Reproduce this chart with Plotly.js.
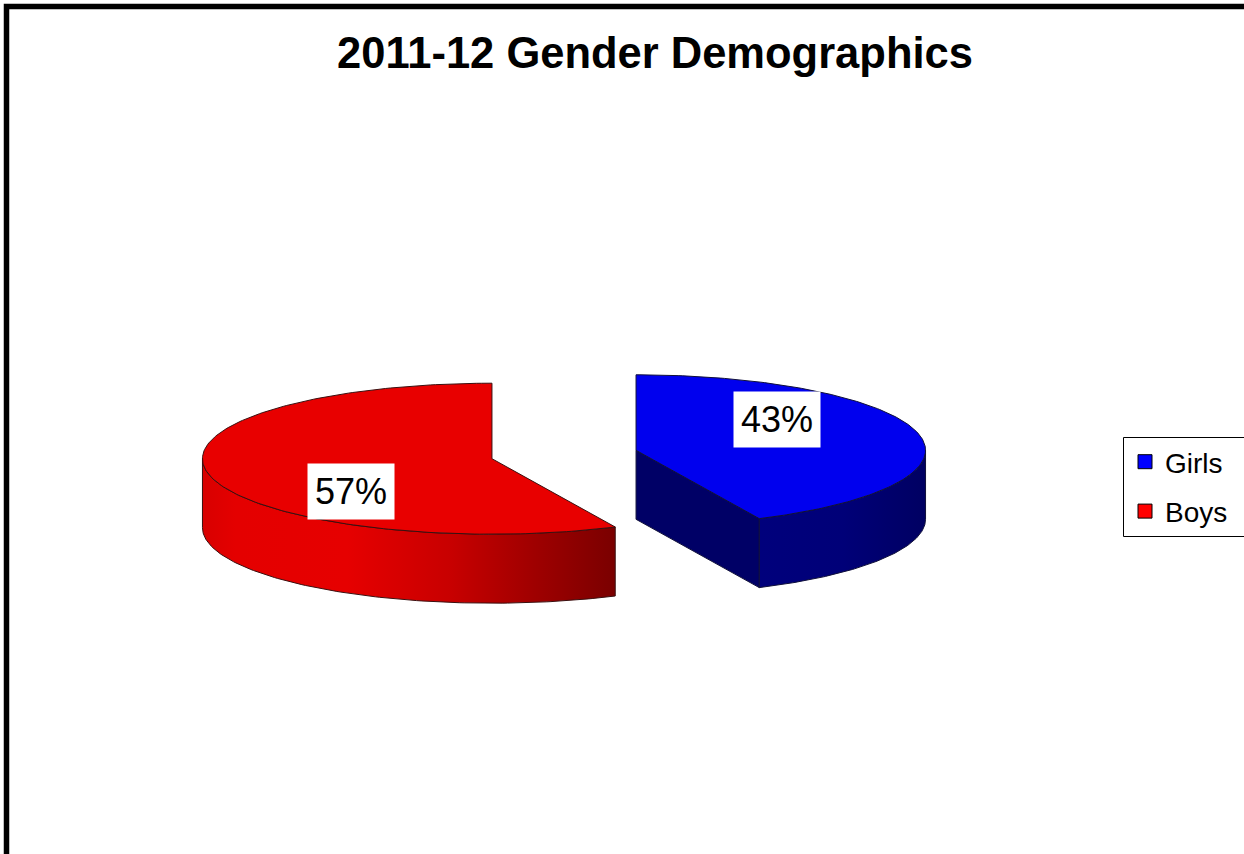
<!DOCTYPE html>
<html>
<head>
<meta charset="utf-8">
<script src="https://cdn.plot.ly/plotly-3.0.1.min.js"></script>
<style>html,body{margin:0;padding:0;background:#fff;}#chart{width:1244px;height:854px;}</style>
</head>
<body>
<div id="chart"></div>
<script>
// ---- data ----
const categories = ['Girls', 'Boys'];
const values = [43, 57];
const chartTitle = '2011-12 Gender Demographics';

// ---- styles ----
const topColors = ['#0000EE', '#E80000'];
const legendColors = ['#0000FF', '#FF0000'];
const cutColors = ['#000066', '#800000'];
const wallScales = [
  [[0, '#00007c'], [0.5, '#000078'], [1, '#000062']],
  [[0, '#d80000'], [0.08, '#e40000'], [0.35, '#e60000'], [0.6, '#c80000'], [0.8, '#a00000'], [1, '#7a0000']]
];
const outline = ['#10103a', '#3a1010'];

// ---- geometry (pixel-based axes) ----
const CX = 564, CY = 454.5, A = 289.5, B = 75.5, DEPTH = 69, EXPLODE = 0.255, LABEL_R = 0.5;
const FONT = 'Liberation Sans, Arial, sans-serif';

const total = values.reduce((s, v) => s + v, 0);
let acc = 0;
const slices = categories.map((c, i) => {
  const sweep = values[i] / total * 360;
  const s = { name: c, i: i, t1: acc, t2: acc + sweep, pct: Math.round(values[i] / total * 100) + '%' };
  acc += sweep;
  return s;
});

const rad = d => d * Math.PI / 180;
function P(cx, cy, deg, dz) {
  return [cx + A * Math.sin(rad(deg)), cy - B * Math.cos(rad(deg)) + dz];
}
function arc(cx, cy, d1, d2, dz, n) {
  const pts = [];
  for (let k = 0; k <= n; k++) pts.push(P(cx, cy, d1 + (d2 - d1) * k / n, dz));
  return pts;
}

const traces = [];
const annotations = [];

slices.forEach(s => {
  const mid = (s.t1 + s.t2) / 2;
  const cx = CX + EXPLODE * A * Math.sin(rad(mid));
  const cy = CY - EXPLODE * B * Math.cos(rad(mid));
  const base = { type: 'scatter', mode: 'lines', fill: 'toself', hoverinfo: 'skip', showlegend: false,
                 line: { color: outline[s.i], width: 1 } };

  // cut faces
  [[s.t1, -1], [s.t2, 1]].forEach(([t, sign]) => {
    if (sign * Math.sin(rad(t)) > 1e-6) {
      const p = P(cx, cy, t, 0), q = P(cx, cy, t, DEPTH);
      traces.push(Object.assign({}, base, {
        x: [cx, p[0], q[0], cx, cx], y: [cy, p[1], q[1], cy + DEPTH, cy],
        fillcolor: cutColors[s.i]
      }));
    }
  });

  // outer wall (front half only: 90..270)
  const lo = Math.max(s.t1, 90), hi = Math.min(s.t2, 270);
  if (hi > lo) {
    const topArc = arc(cx, cy, lo, hi, 0, 120);
    const botArc = arc(cx, cy, hi, lo, DEPTH, 120);
    const pts = topArc.concat(botArc);
    pts.push(topArc[0]);
    traces.push(Object.assign({}, base, {
      x: pts.map(p => p[0]), y: pts.map(p => p[1]),
      fillcolor: cutColors[s.i],
      fillgradient: { type: 'horizontal', colorscale: wallScales[s.i] }
    }));
  }

  // top face
  const tp = [[cx, cy]].concat(arc(cx, cy, s.t1, s.t2, 0, 200));
  tp.push([cx, cy]);
  traces.push(Object.assign({}, base, {
    x: tp.map(p => p[0]), y: tp.map(p => p[1]),
    fillcolor: topColors[s.i]
  }));

  annotations.push({
    x: cx + LABEL_R * A * Math.sin(rad(mid)),
    y: cy - LABEL_R * A * Math.cos(rad(mid)) + 1,
    xref: 'x', yref: 'y', text: s.pct, showarrow: false,
    font: { family: FONT, size: 36, color: '#000' },
    bgcolor: '#fff', borderpad: 7
  });
});

// legend entries
slices.forEach(s => {
  traces.push({
    type: 'scatter', mode: 'markers', x: [null], y: [null], name: s.name,
    legendgroup: s.name, showlegend: true, hoverinfo: 'skip',
    marker: { symbol: 'square', size: 14, color: legendColors[s.i], line: { color: '#000', width: 1 } }
  });
});

const LEG_L = 1123, LEG_T = 437, LEG_B = 536;

const layout = {
  width: 1244, height: 854,
  margin: { l: 0, r: 0, t: 0, b: 0 },
  paper_bgcolor: '#fff', plot_bgcolor: '#fff',
  xaxis: { range: [0, 1244], visible: false, fixedrange: true },
  yaxis: { range: [854, 0], visible: false, fixedrange: true },
  title: {
    text: chartTitle, x: 655 / 1244, xanchor: 'center', xref: 'paper',
    y: 1 - 53 / 854, yanchor: 'middle', yref: 'paper',
    font: { family: FONT, size: 43.5, weight: 'bold', color: '#000' }
  },
  showlegend: true,
  legend: {
    x: (LEG_L + 2) / 1244, xanchor: 'left', y: 1 - LEG_T / 854, yanchor: 'top',
    bgcolor: 'rgba(0,0,0,0)', borderwidth: 0,
    font: { family: FONT, size: 28, color: '#000' },
    tracegroupgap: 10, traceorder: 'grouped'
  },
  annotations: annotations,
  shapes: [
    {
      type: 'rect', xref: 'paper', yref: 'paper',
      x0: 6.5 / 1244, x1: 1.2, y0: -0.2, y1: 1 - 6.5 / 854,
      line: { color: '#000', width: 5.5 }, fillcolor: 'rgba(0,0,0,0)', layer: 'above'
    },
    {
      type: 'rect', xref: 'paper', yref: 'paper',
      x0: (LEG_L + 0.5) / 1244, x1: 1.05, y0: 1 - (LEG_B + 0.5) / 854, y1: 1 - (LEG_T + 0.5) / 854,
      line: { color: '#000', width: 1 }, fillcolor: 'rgba(0,0,0,0)', layer: 'above'
    }
  ]
};

Plotly.newPlot('chart', traces, layout, { displayModeBar: false, staticPlot: true });
</script>
</body>
</html>
